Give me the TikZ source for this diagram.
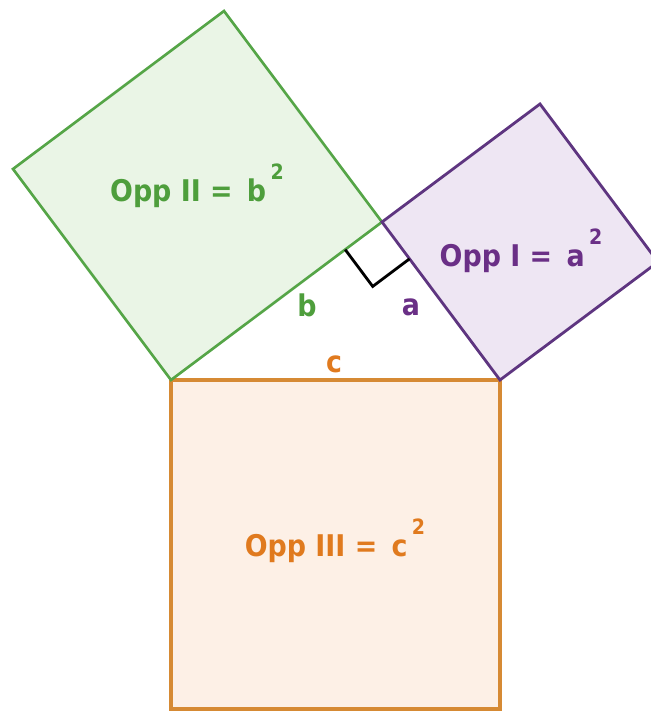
\documentclass[tikz,border=0pt]{standalone}
\usepackage{fontspec}
\setsansfont{DejaVu Sans Condensed}
\usetikzlibrary{calc}
\definecolor{leafgreen}{HTML}{55A547}
\definecolor{leafwash}{HTML}{EAF5E6}
\definecolor{leaftext}{HTML}{4E9E3C}
\definecolor{plum}{HTML}{5E3580}
\definecolor{plumwash}{HTML}{EEE6F3}
\definecolor{plumtext}{HTML}{6A2F86}
\definecolor{amber}{HTML}{D68A34}
\definecolor{amberwash}{HTML}{FDF0E6}
\definecolor{ambertext}{HTML}{E07A1E}
\newcommand{\sqtwo}{\kern2.5pt\raisebox{12.5pt}{\fontsize{12}{12}\selectfont 2}}

\begin{document}
\begin{tikzpicture}[
  sqlabel/.style={font=\sffamily\bfseries\fontsize{17}{19}\selectfont, inner sep=0pt},
  sidelabel/.style={font=\sffamily\bfseries\fontsize{17}{19}\selectfont, inner sep=0pt}]
\useasboundingbox (0,0) rectangle (13.02,14.26);
% right triangle
\coordinate (A) at (3.42,6.66);
\coordinate (B) at (10.0,6.66);
\coordinate (C) at (7.64,9.82);
% outer corners of the squares
\coordinate (A2) at ($(A)!1!90:(C)$);
\coordinate (C2) at ($(C)!1!-90:(A)$);
\coordinate (C3) at ($(C)!1!90:(B)$);
\coordinate (B3) at ($(B)!1!-90:(C)$);
\coordinate (A4) at ($(A)!1!-90:(B)$);
\coordinate (B4) at ($(B)!1!90:(A)$);
\filldraw[fill=amberwash, draw=amber, line width=1.8pt] (A) -- (B) -- (B4) -- (A4) -- cycle;
\filldraw[fill=leafwash, draw=leafgreen, line width=1.5pt] (A) -- (C) -- (C2) -- (A2) -- cycle;
\filldraw[fill=plumwash, draw=plum, line width=1.6pt] (C) -- (B) -- (B3) -- (C3) -- cycle;
% right angle mark
\coordinate (ra) at ($(C)!0.92cm!(A)$);
\coordinate (rb) at ($(C)!0.92cm!(B)$);
\draw[line width=1.6pt] (ra) -- ($(ra)+(rb)-(C)$) -- (rb);
\node[sqlabel, text=leaftext] (sqb) at (3.94,10.54) {Opp II = \,b\sqtwo};
\node[sqlabel, text=plumtext] (sqa) at (10.42,9.24) {Opp I = \,a\sqtwo};
\node[sqlabel, text=ambertext] (sqc) at (6.7,3.44) {Opp III = \,c\sqtwo};
\node[sidelabel, text=leaftext] (lblb) at (6.14,8.16) {b};
\node[sidelabel, text=plumtext] (lbla) at (8.22,8.12) {a};
\node[sidelabel, text=ambertext] (lblc) at (6.68,6.98) {c};
\end{tikzpicture}
\end{document}
